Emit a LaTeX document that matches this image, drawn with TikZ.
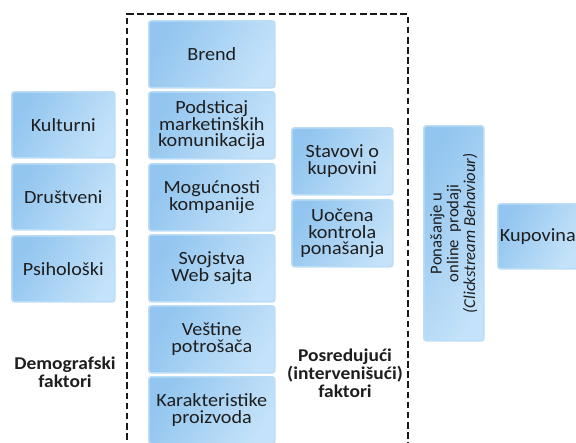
\documentclass[tikz,border=0pt]{standalone}
\usepackage{fontspec}
\setmainfont{Carlito}
\newfontfamily\boxfont{Carlito}[FakeStretch=1.08]
\usetikzlibrary{positioning}
\definecolor{boxdark}{HTML}{92C5EF}
\definecolor{boxlight}{HTML}{C4E2F9}
\definecolor{boxedge}{HTML}{BCDDF6}
\definecolor{txt}{HTML}{1E1E1E}
\tikzset{
  fbox/.style={rounded corners=2pt, draw=boxedge, line width=1.2pt,
    left color=boxdark, right color=boxlight, shading angle=60,
    text=txt, align=center, font=\boxfont\fontsize{14}{12.5}\selectfont,
    inner sep=0pt, anchor=north west},
  lbl/.style={align=center, text=txt, font=\boxfont\bfseries\fontsize{13.5}{13.5}\selectfont},
  frame/.style={dashed, dash pattern=on 5pt off 2.6pt, line width=1.8pt, draw=black!90}
}
\begin{document}
\begin{tikzpicture}[x=0.75pt,y=-0.75pt]
\useasboundingbox (0,0) rectangle (576,443);
\begin{scope}
\clip (0,0) rectangle (576,443);
% dashed frame
\draw[frame] (127,460) -- (127,14) -- (408,14) -- (408,460);
% left column
\node[fbox, minimum width=77.25pt, minimum height=49.5pt] (kult) at (11,91) {Kulturni};
\node[fbox, minimum width=77.25pt, minimum height=49.5pt] (drus) at (11,163) {Društveni};
\node[fbox, minimum width=77.25pt, minimum height=49.5pt] (psih) at (11,235) {Psihološki};
% middle column
\node[fbox, minimum width=94.5pt, minimum height=50.25pt] (brend) at (148,20) {Brend};
\node[fbox, minimum width=94.5pt, minimum height=50.25pt] (podst) at (148,91) {Podsticaj\\marketinških\\komunikacija};
\node[fbox, minimum width=94.5pt, minimum height=50.25pt] (mogu) at (148,163) {Mogućnosti\\kompanije};
\node[fbox, minimum width=94.5pt, minimum height=50.25pt] (svoj) at (148,234) {Svojstva\\Web sajta};
\node[fbox, minimum width=94.5pt, minimum height=50.25pt] (vest) at (148,305) {Veštine\\potrošača};
\node[fbox, minimum width=94.5pt, minimum height=50.25pt] (kara) at (148,376) {Karakteristike\\proizvoda};
% third column
\node[fbox, minimum width=75.75pt, minimum height=50.25pt] (stav) at (291,127) {Stavovi o\\kupovini};
\node[fbox, minimum width=75.75pt, minimum height=50.25pt] (uoc) at (291,199) {Uočena\\kontrola\\ponašanja};
% vertical box
\node[fbox, minimum width=45pt, minimum height=161.25pt] (pona) at (423,125) {};
\node[rotate=90, align=center, text=txt, font=\fontsize{12.5}{12.5}\selectfont] (ponat) at (pona.center)
  {Ponašanje u\\online\ \ prodaji\\{\itshape (Clickstream Behaviour)}};
% Kupovina
\node[fbox, minimum width=60pt, minimum height=48.75pt] (kup) at (497,203) {Kupovina};
% labels
\node[lbl] (demo) at (65,372) {Demografski\\faktori};
\node[lbl] (posr) at (345,373) {Posredujući\\(intervenišući)\\faktori};
\end{scope}
\end{tikzpicture}
\end{document}
